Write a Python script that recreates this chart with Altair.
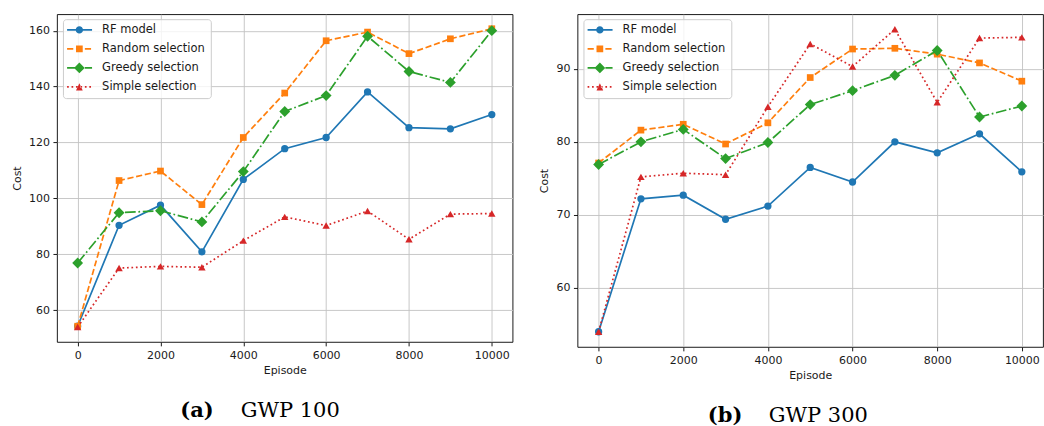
import altair as alt
import pandas as pd

# ---------------- data ----------------
episodes = [0, 1000, 2000, 3000, 4000, 5000, 6000, 7000, 8000, 9000, 10000]
series_names = ["RF model", "Random selection", "Greedy selection", "Simple selection"]
series_colors = ["#1f77b4", "#ff7f0e", "#2ca02c", "#d62728"]

gwp100_rf = [54.3, 90.4, 97.6, 80.9, 106.8, 117.8, 121.8, 138.1, 125.3, 124.9, 130.0]
gwp100_random = [54.3, 106.4, 109.8, 97.8, 121.8, 137.7, 156.4, 159.5, 151.8, 157.1, 160.7]
gwp100_greedy = [76.9, 94.9, 95.6, 91.6, 109.6, 131.1, 136.8, 158.0, 145.4, 141.5, 160.0]
gwp100_simple = [54.0, 75.1, 75.7, 75.4, 84.9, 93.4, 90.3, 95.5, 85.4, 94.4, 94.6]

gwp300_rf = [54.0, 72.2, 72.7, 69.4, 71.2, 76.5, 74.5, 80.0, 78.5, 81.1, 75.9]
gwp300_random = [77.1, 81.6, 82.4, 79.7, 82.6, 88.8, 92.7, 92.8, 92.0, 90.8, 88.3]
gwp300_greedy = [76.9, 80.0, 81.7, 77.7, 79.9, 85.1, 87.0, 89.1, 92.5, 83.4, 84.9]
gwp300_simple = [54.0, 75.2, 75.7, 75.5, 84.8, 93.4, 90.3, 95.4, 85.4, 94.2, 94.3]

x_ticks = [0, 2000, 4000, 6000, 8000, 10000]
x_domain = [-500, 10500]
gwp100_y_ticks = [60, 80, 100, 120, 140, 160]
gwp100_y_domain = [48.7, 165.9]
gwp300_y_ticks = [60, 70, 80, 90]
gwp300_y_domain = [51.93, 97.47]

caption_a = ["(a)", "GWP 100"]
caption_b = ["(b)", "GWP 300"]


def long_table(rf, random, greedy, simple):
    rows = []
    for name, vals in zip(series_names, [rf, random, greedy, simple]):
        for e, v in zip(episodes, vals):
            rows.append({"episode": e, "cost": v, "series": name})
    return pd.DataFrame(rows)


df100 = long_table(gwp100_rf, gwp100_random, gwp100_greedy, gwp100_simple)
df300 = long_table(gwp300_rf, gwp300_random, gwp300_greedy, gwp300_simple)

# ---------------- styles ----------------
marker_shapes = ["circle", "square", "diamond", "triangle-up"]
marker_sizes = [53, 45, 118, 55]
line_dashes = [None, [6.2, 2.7], [10.7, 2.7, 1.7, 2.7], [1.7, 2.75]]

HW = 0.2125  # half line width in glyph units (1 unit = 4 px)


def seg(a, b):
    return f"M{a},{-HW}L{b},{-HW}L{b},{HW}L{a},{HW}Z"


def segs(pairs):
    return "".join(seg(a, b) for a, b in pairs)


# legend glyphs: line (with its dash pattern) + marker, filled SVG paths
legend_paths = [
    segs([(-1.65, 4.6)])
    + "M2.3375,0A0.9125,0.9125 0 1,1 0.5125,0A0.9125,0.9125 0 1,1 2.3375,0Z",
    segs([(-1.65, -0.1), (0.575, 2.125), (2.8, 4.35)])
    + "M0.5875,-0.8375L2.2625,-0.8375L2.2625,0.8375L0.5875,0.8375Z",
    segs([(-1.65, 1.025), (1.7, 2.125), (2.8, 4.6)])
    + "M0.0875,0L1.425,-1.3375L2.7625,0L1.425,1.3375Z",
    segs([(-1.65, -1.225), (-0.5375, -0.1125), (0.575, 1.0), (1.6875, 2.1125),
          (2.8, 3.225), (3.9125, 4.3375)])
    + "M1.425,-0.9125L0.5875,0.9125L2.2625,0.9125Z",
]


def make_legend():
    return alt.Legend(
        title=None,
        orient="none",
        legendX=6,
        legendY=5,
        padding=5,
        rowPadding=6,
        symbolSize=64,
        symbolStrokeWidth=0,
        symbolOpacity=1,
        labelOffset=22.7,
        labelFont="DejaVu Sans",
        labelFontSize=11.5,
        labelColor="#1a1a1a",
        fillColor="rgba(255,255,255,0.8)",
        strokeColor="#cccccc",
        cornerRadius=3,
    )


def panel(df, y_domain, y_ticks, width, height, caption, cap_pos, top_pad):
    base = alt.Chart(df)
    x = alt.X(
        "episode:Q",
        scale=alt.Scale(domain=x_domain, nice=False, zero=False),
        axis=alt.Axis(values=x_ticks, title="Episode", format="d", titlePadding=4,
                      titleFontWeight="normal"),
    )
    y = alt.Y(
        "cost:Q",
        scale=alt.Scale(domain=y_domain, nice=False, zero=False),
        axis=alt.Axis(values=y_ticks, title="Cost", format="d", titlePadding=6,
                      titleFontWeight="normal"),
    )
    layers = []
    for name, color, shape, size, dash in zip(
        series_names, series_colors, marker_shapes, marker_sizes, line_dashes
    ):
        sub = base.transform_filter(alt.datum.series == name)
        if dash is None:
            ln = sub.mark_line(color=color, strokeWidth=1.7)
        else:
            ln = sub.mark_line(color=color, strokeWidth=1.7, strokeDash=dash)
        pt = sub.mark_point(
            shape=shape, filled=True, size=size, color=color, opacity=1
        )
        layers.append(ln.encode(x=x, y=y))
        layers.append(pt.encode(x=x, y=y))

    legend_layer = base.mark_point(opacity=0, filled=True, size=64).encode(
        x=x,
        y=y,
        color=alt.Color(
            "series:N",
            scale=alt.Scale(domain=series_names, range=series_colors),
            legend=make_legend(),
        ),
        shape=alt.Shape(
            "series:N",
            scale=alt.Scale(domain=series_names, range=legend_paths),
            legend=make_legend(),
        ),
    )
    layers.append(legend_layer)

    cap_df = pd.DataFrame({"label": caption})
    cap1 = (
        alt.Chart(cap_df)
        .transform_filter(alt.datum.label == caption[0])
        .mark_text(
            font="DejaVu Serif", fontSize=21, fontWeight="bold", align="center",
            baseline="alphabetic", color="black",
        )
        .encode(text="label:N", x=alt.value(cap_pos[0]), y=alt.value(cap_pos[2]))
    )
    cap2 = (
        alt.Chart(cap_df)
        .transform_filter(alt.datum.label == caption[1])
        .mark_text(
            font="DejaVu Serif", fontSize=21, fontWeight="normal", align="center",
            baseline="alphabetic", color="black",
        )
        .encode(text="label:N", x=alt.value(cap_pos[1]), y=alt.value(cap_pos[2]))
    )
    layers += [cap1, cap2]
    if top_pad > 0:
        spacer = (
            alt.Chart(cap_df.head(1))
            .mark_rule(opacity=0, strokeWidth=1, color="white")
            .encode(x=alt.value(0), y=alt.value(-top_pad), y2=alt.value(0))
        )
        layers.append(spacer)
    return alt.layer(*layers).properties(width=width, height=height)


panel_a = panel(df100, gwp100_y_domain, gwp100_y_ticks, 456, 328,
                caption_a, (140.2, 233.5, 403.4), 5)
panel_b = panel(df300, gwp300_y_domain, gwp300_y_ticks, 466, 333,
                caption_b, (147.8, 241.1, 408.4), 0)

chart = (
    alt.hconcat(panel_a, panel_b, spacing=25)
    .resolve_scale(shape="independent", color="independent")
    .resolve_legend(shape="independent", color="independent")
    .properties(padding={"left": 11, "top": 8, "right": 0, "bottom": 0},
                background="white")
    .configure_view(stroke="black", strokeWidth=0.9)
    .configure_axis(
        domain=False,
        tickColor="black",
        tickSize=4,
        tickWidth=0.9,
        labelFont="DejaVu Sans",
        labelFontSize=11,
        labelColor="#1a1a1a",
        labelPadding=3.5,
        labelFlush=False,
        titleFont="DejaVu Sans",
        titleFontSize=11,
        titleFontWeight="normal",
        titleColor="#1a1a1a",
        gridColor="#c2c2c2",
        gridWidth=0.9,
    )
)

chart.save("out.html", embed_options={"renderer": "svg", "actions": False})
